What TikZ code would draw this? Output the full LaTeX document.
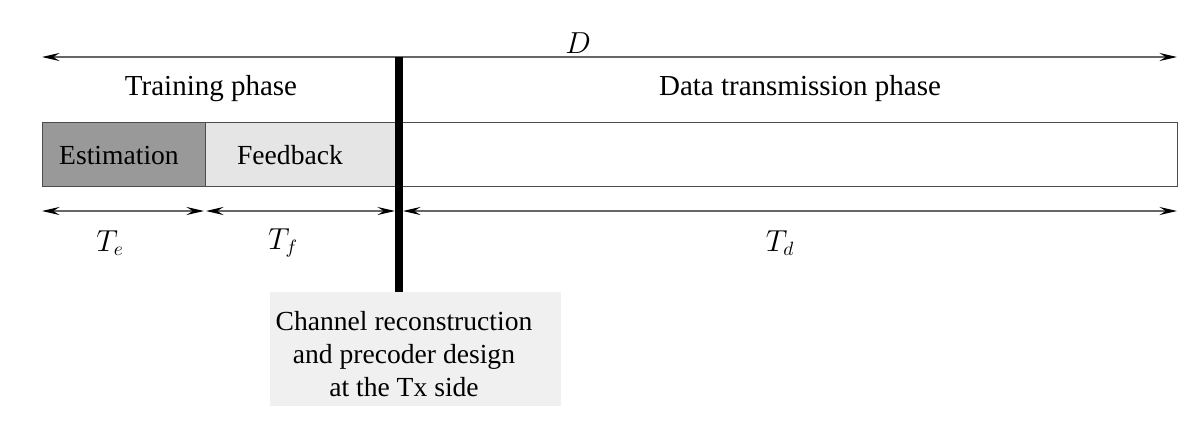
\documentclass[tikz,border=0pt]{standalone}
\usepackage{fontspec}
\setmainfont{Liberation Serif}
\usetikzlibrary{arrows.meta}
\begin{document}
\begin{tikzpicture}[x=0.02cm,y=-0.02cm,
  tip/.tip={Stealth[length=10pt,width=4.6pt,inset=3.6pt,color=black]},
  dim/.style={draw=black!60, line width=0.7pt, {tip}-{tip}},
  lbl/.style={font=\fontsize{15.7}{18.7}\selectfont, inner sep=0pt},
  head/.style={font=\fontsize{16.5}{19}\selectfont, inner sep=0pt},
  mlbl/.style={font=\fontsize{16}{19}\selectfont, inner sep=0pt},
  seg/.style={draw=black!70, line width=0.6pt, anchor=north west, inner sep=0pt, minimum height=1.28cm}
]
\useasboundingbox (0,0) rectangle (1200,423);
% top dimension
\coordinate (dL) at (42,57);
\coordinate (dR) at (1177,57);
\draw[dim] (dL) -- (dR);
\node[mlbl] (D) at (578,43) {$D$};
% phase headers
\node[head] (train) at (211,89) {Training phase};
\node[head] (data) at (800,89) {Data transmission phase};
% segments
\node[seg, fill=black!40, minimum width=3.26cm] (est) at (42,122) {};
\node[seg, fill=black!10, minimum width=3.82cm] (fb) at (205,122) {};
\node[seg, fill=white, minimum width=15.62cm] (dt) at (396,122) {};
\node[lbl] (estT) at (119,155) {Estimation};
\node[lbl] (fbT) at (290,155) {Feedback};
% lower dimensions
\coordinate (a0) at (42,211);
\coordinate (a1) at (204,211);
\coordinate (b0) at (206,211);
\coordinate (b1) at (395,211);
\coordinate (c0) at (403,211);
\coordinate (c1) at (1177,211);
\draw[dim] (a0) -- (a1);
\draw[dim] (b0) -- (b1);
\draw[dim] (c0) -- (c1);
\node[mlbl] (Te) at (110,243) {$T_e$};
\node[mlbl] (Tf) at (283,243) {$T_f$};
\node[mlbl] (Td) at (780,243) {$T_d$};
% bottom box
\node[anchor=north west, fill=black!6, inner sep=0pt, minimum width=5.82cm, minimum height=2.28cm] (rec) at (270,292) {};
\node[lbl, align=center] (recT) at (404,354) {Channel reconstruction\\and precoder design\\at the Tx side};
% thick bar
\coordinate (barTop) at (399,57);
\coordinate (barBot) at (399,292);
\draw[line width=4.5pt] (barTop) -- (barBot);
\end{tikzpicture}
\end{document}
